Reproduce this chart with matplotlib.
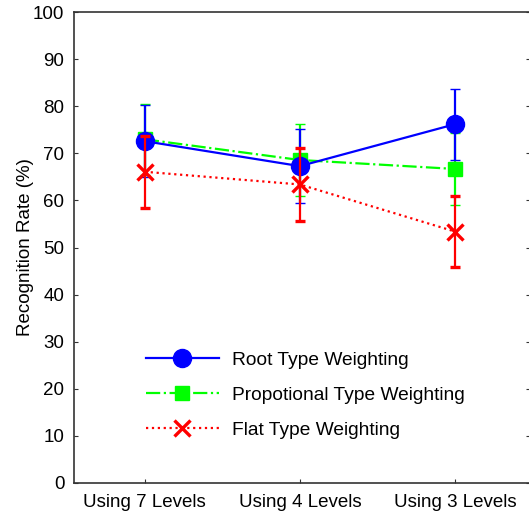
import numpy as np
import matplotlib
matplotlib.use('Agg')
import matplotlib.pyplot as plt
from matplotlib.lines import Line2D

plt.rcParams['font.family'] = ['Liberation Sans', 'DejaVu Sans']

# data
levels = ['Using 7 Levels', 'Using 4 Levels', 'Using 3 Levels']
root_rate = [72.6, 67.3, 76.2]
root_err = [7.7, 7.9, 7.5]
prop_rate = [73.0, 68.6, 66.7]
prop_err = [7.6, 7.6, 7.7]
flat_rate = [66.1, 63.4, 53.4]
flat_err = [7.6, 7.8, 7.5]
yticks = np.arange(0, 101, 10)

x = np.arange(1, len(levels) + 1)

styles = [
    dict(color='#0000ff', ls='-', marker='o', ms=13, mew=1, label='Root Type Weighting'),
    dict(color='#00ff00', ls='-.', marker='s', ms=10, mew=1, label='Propotional Type Weighting'),
    dict(color='#ff0000', ls=':', marker='x', ms=12, mew=2.4, label='Flat Type Weighting'),
]
series = [(root_rate, root_err, 3), (prop_rate, prop_err, 2), (flat_rate, flat_err, 4)]

fig = plt.figure(figsize=(5.29, 5.15), dpi=100)
ax = fig.add_axes([74 / 529, 32.3 / 515, 456 / 529, 470.4 / 515])

handles = []
for (vals, errs, z), st in zip(series, styles):
    ax.errorbar(x, vals, yerr=errs, lw=1.6, capsize=3.5, elinewidth=1.6,
                capthick=1.6, zorder=z, **st)
    handles.append(Line2D([], [], lw=1.6, **st))

ax.set_xlim(0.543, 3.485)
ax.set_ylim(0, 100)
ax.set_xticks(x)
ax.set_xticklabels(levels)
ax.set_yticks(yticks)
ax.tick_params(axis='both', direction='in', length=3, labelsize=13.5, color='#333333')
ax.tick_params(axis='y', right=True, pad=7)
ax.tick_params(axis='x', pad=8)
for s in ax.spines.values():
    s.set_color('#333333')
    s.set_linewidth(1.2)
ax.set_ylabel('Recognition Rate (%)', fontsize=13.5, labelpad=-1)

ax.legend(handles=handles, loc='upper left', bbox_to_anchor=(0.12, 0.315),
          frameon=False, fontsize=13.8, handlelength=3.8, handletextpad=0.7,
          labelspacing=0.9)

fig.savefig('out.png', dpi=100)
